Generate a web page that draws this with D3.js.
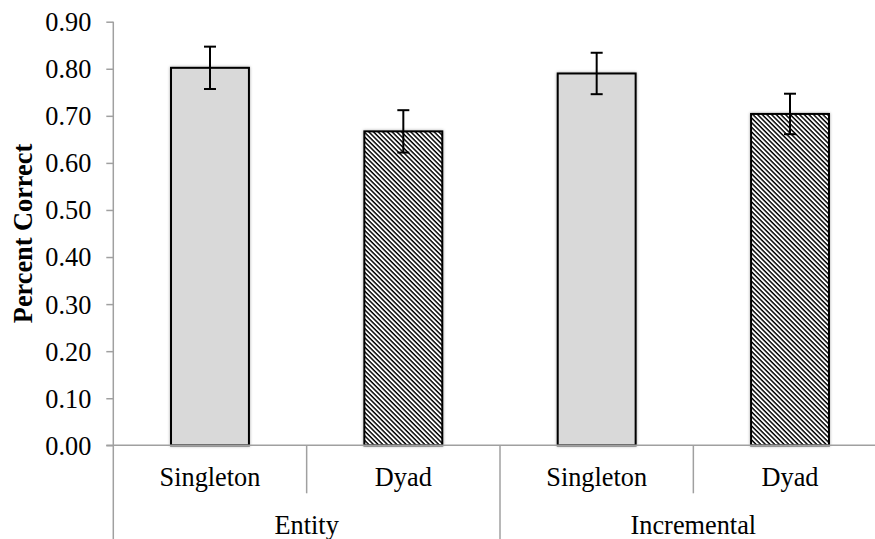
<!DOCTYPE html>
<html>
<head>
<meta charset="utf-8">
<script src="https://cdn.jsdelivr.net/npm/d3@7"></script>
<style>
  html, body { margin: 0; padding: 0; background: #fff; }
  svg { display: block; }
  svg text { font-family: "Liberation Serif", "Times New Roman", serif !important; fill: #000; }
</style>
</head>
<body>
<svg id="chart" width="875" height="539"></svg>
<script>
// ---- data ----
const groups = ["Entity", "Incremental"];
const conditions = ["Singleton", "Dyad"];
const values = [0.802, 0.667, 0.790, 0.704];
const errors = [0.045, 0.045, 0.044, 0.043];
const yTicks = [0, 0.1, 0.2, 0.3, 0.4, 0.5, 0.6, 0.7, 0.8, 0.9];
const yTitle = "Percent Correct";

(function () {
// ---- layout ----
const W = 875, H = 539;
const mLeft = 113.3, mRight = 886.7, mTop = 21.7, mBottom = 445.3;
const fontSize = 26.3;
const serif = '"Liberation Serif", "Times New Roman", serif';
const axisColor = "#A0A0A0";

const svg = d3.select("#chart");
const defs = svg.append("defs");

// hatch pattern (downward diagonal)
const pat = defs.append("pattern")
  .attr("id", "hatch")
  .attr("patternUnits", "userSpaceOnUse")
  .attr("width", 8).attr("height", 3.3)
  .attr("patternTransform", "rotate(45)");
pat.append("rect").attr("width", 8).attr("height", 3.3).attr("fill", "#fff");
pat.append("rect").attr("y", 0).attr("width", 8).attr("height", 1.45).attr("fill", "#000");

// soft shadow
const f = defs.append("filter").attr("id", "shadow")
  .attr("x", "-20%").attr("y", "-20%").attr("width", "140%").attr("height", "140%");
f.append("feDropShadow").attr("dx", 0).attr("dy", 0).attr("stdDeviation", 1.6)
  .attr("flood-color", "#000").attr("flood-opacity", 0.35);

// data rows
const rows = [];
groups.forEach((g, gi) => conditions.forEach((c, ci) => {
  const i = gi * conditions.length + ci;
  rows.push({ key: g + "|" + c, group: g, cond: c, ci, value: values[i], err: errors[i] });
}));

const x = d3.scaleBand().domain(rows.map(d => d.key)).range([mLeft, mRight]).paddingInner(0).paddingOuter(0);
const xg = d3.scaleBand().domain(groups).range([mLeft, mRight]).paddingInner(0).paddingOuter(0);
const y = d3.scaleLinear().domain([0, 0.9]).range([mBottom, mTop]);

const bw = x.bandwidth() * 0.403;

// y axis
const yAxis = d3.axisLeft(y).tickValues(yTicks).tickFormat(d3.format(".2f")).tickSize(7).tickPadding(15);
const gy = svg.append("g").attr("transform", `translate(${mLeft},0)`).call(yAxis);
gy.attr("font-family", serif).attr("font-size", fontSize);
gy.select(".domain").remove();
gy.selectAll(".tick line").attr("stroke", axisColor).attr("stroke-width", 1.5);
gy.selectAll(".tick text").style("font-family", serif).style("font-size", fontSize + "px").attr("dy", "0.34em");

// vertical axis line extending to bottom
svg.append("line").attr("x1", mLeft).attr("x2", mLeft).attr("y1", mTop).attr("y2", H)
  .attr("stroke", axisColor).attr("stroke-width", 1.5);

// bars
svg.append("g").selectAll("rect").data(rows).join("rect")
  .attr("x", d => x(d.key) + (x.bandwidth() - bw) / 2)
  .attr("width", bw)
  .attr("y", d => y(d.value))
  .attr("height", d => y(0) - y(d.value))
  .attr("fill", d => d.ci === 0 ? "#D9D9D9" : "url(#hatch)")
  .attr("stroke", "#000").attr("stroke-width", 2)
  .attr("filter", "url(#shadow)");

// baseline over bars
svg.append("line").attr("x1", mLeft - 7).attr("x2", mRight).attr("y1", y(0)).attr("y2", y(0))
  .attr("stroke", axisColor).attr("stroke-width", 1.5);

// error bars
const eg = svg.append("g").attr("stroke", "#000").attr("stroke-width", 2);
rows.forEach(d => {
  const cx = x(d.key) + x.bandwidth() / 2;
  eg.append("line").attr("x1", cx).attr("x2", cx).attr("y1", y(d.value + d.err)).attr("y2", y(d.value - d.err));
  eg.append("line").attr("x1", cx - 6).attr("x2", cx + 6).attr("y1", y(d.value + d.err)).attr("y2", y(d.value + d.err));
  eg.append("line").attr("x1", cx - 6).attr("x2", cx + 6).attr("y1", y(d.value - d.err)).attr("y2", y(d.value - d.err));
});

// category separators
rows.forEach((d, i) => {
  if (i === 0) return;
  const sx = x(d.key);
  const isGroup = d.ci === 0;
  svg.append("line").attr("x1", sx).attr("x2", sx)
    .attr("y1", y(0)).attr("y2", isGroup ? H : 493.3)
    .attr("stroke", axisColor).attr("stroke-width", 1.5);
});

// category labels
svg.append("g").selectAll("text").data(rows).join("text")
  .attr("x", d => x(d.key) + x.bandwidth() / 2)
  .attr("y", 486)
  .attr("text-anchor", "middle")
  .attr("font-size", fontSize)
  .text(d => d.cond);

// group labels
svg.append("g").selectAll("text").data(groups).join("text")
  .attr("x", d => xg(d) + xg.bandwidth() / 2)
  .attr("y", 534)
  .attr("text-anchor", "middle")
  .attr("font-size", fontSize)
  .text(d => d);

// y title
svg.append("text")
  .attr("transform", `translate(32,${(mTop + mBottom) / 2}) rotate(-90)`)
  .attr("text-anchor", "middle")
  .attr("font-size", fontSize)
  .attr("font-weight", "bold")
  .text(yTitle);
})();
</script>
</body>
</html>
